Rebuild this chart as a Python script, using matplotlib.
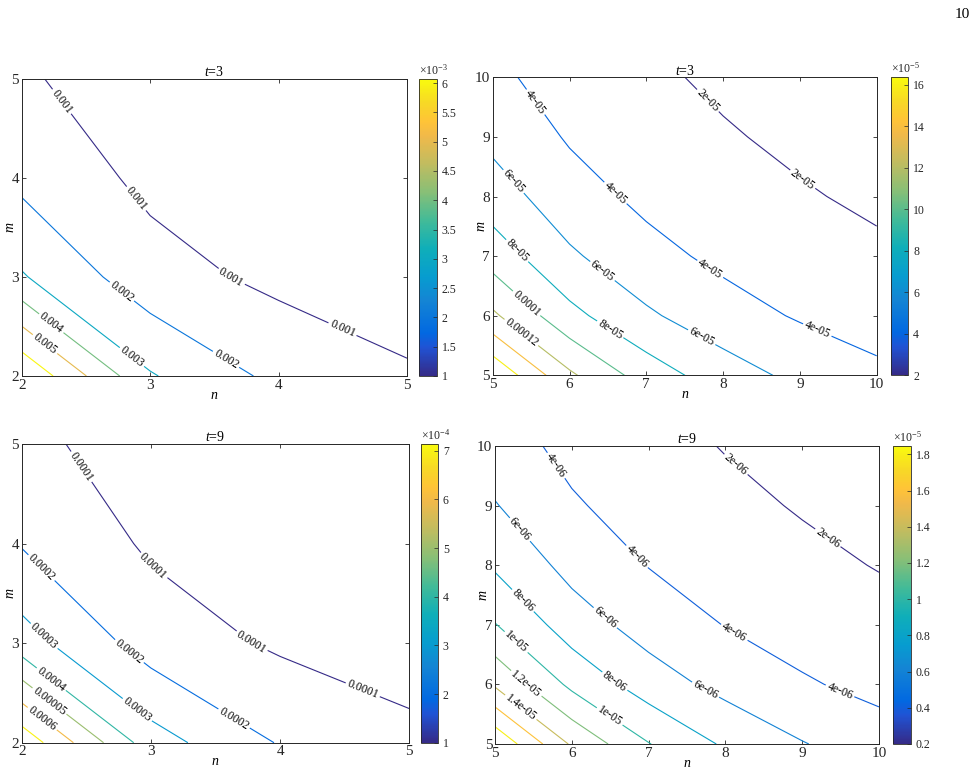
import numpy as np
import matplotlib
matplotlib.use('Agg')
from matplotlib import pyplot as plt
from matplotlib import colors, cm

plt.rcParams['font.family'] = 'Liberation Serif'
plt.rcParams['mathtext.fontset'] = 'custom'
plt.rcParams['mathtext.rm'] = 'Liberation Serif'
plt.rcParams['mathtext.it'] = 'Liberation Serif:italic'

# grid nodes
n_small = [2, 3, 4, 5]
m_small = [2, 3, 4, 5]
n_large = [5, 6, 7, 8, 9, 10]
m_large = [5, 6, 7, 8, 9, 10]

# t=3, values x1e-3 (rows m, cols n)
z_t3_small = [
    [6.944, 3.086, 1.736, 1.111],
    [3.086, 1.372, 0.772, 0.494],
    [1.736, 0.772, 0.434, 0.278],
    [1.111, 0.494, 0.278, 0.178],
]
# t=3, values x1e-5
z_t3_large = [
    [17.778, 12.346, 9.070, 6.944, 5.487, 4.444],
    [12.346, 8.573, 6.299, 4.823, 3.810, 3.086],
    [9.070, 6.299, 4.628, 3.543, 2.800, 2.268],
    [6.944, 4.823, 3.543, 2.713, 2.143, 1.736],
    [5.487, 3.810, 2.800, 2.143, 1.694, 1.372],
    [4.444, 3.086, 2.268, 1.736, 1.372, 1.111],
]
# t=9, values x1e-4
z_t9_small = [
    [7.716, 3.429, 1.929, 1.235],
    [3.429, 1.524, 0.857, 0.549],
    [1.929, 0.857, 0.482, 0.309],
    [1.235, 0.549, 0.309, 0.198],
]
# t=9, values x1e-5
z_t9_large = [
    [1.975, 1.372, 1.008, 0.772, 0.610, 0.494],
    [1.372, 0.953, 0.700, 0.536, 0.423, 0.343],
    [1.008, 0.700, 0.514, 0.394, 0.311, 0.252],
    [0.772, 0.536, 0.394, 0.301, 0.238, 0.193],
    [0.610, 0.423, 0.311, 0.238, 0.188, 0.152],
    [0.494, 0.343, 0.252, 0.193, 0.152, 0.124],
]

levels_t3_small = [0.001, 0.002, 0.003, 0.004, 0.005, 0.006]
levels_t3_large = [2e-05, 4e-05, 6e-05, 8e-05, 1e-04, 1.2e-04, 1.4e-04, 1.6e-04]
levels_t9_small = [1e-04, 2e-04, 3e-04, 4e-04, 5e-04, 6e-04, 7e-04]
levels_t9_large = [2e-06, 4e-06, 6e-06, 8e-06, 1e-05, 1.2e-05, 1.4e-05, 1.6e-05, 1.8e-05]

cbar_ticks_t3_small = [1, 1.5, 2, 2.5, 3, 3.5, 4, 4.5, 5, 5.5, 6]
cbar_ticks_t3_large = [2, 4, 6, 8, 10, 12, 14, 16]
cbar_ticks_t9_small = [1, 2, 3, 4, 5, 6, 7]
cbar_ticks_t9_large = [0.2, 0.4, 0.6, 0.8, 1, 1.2, 1.4, 1.6, 1.8]

# label text as printed on the chart
label_override = {5e-04: '0.00005'}

# parula-like colormap
parula = colors.LinearSegmentedColormap.from_list('parula', [
    (0.000, (0.2081, 0.1663, 0.5292)),
    (0.095, (0.1253, 0.3242, 0.8303)),
    (0.143, (0.0060, 0.4086, 0.8828)),
    (0.254, (0.0793, 0.5200, 0.8312)),
    (0.333, (0.0265, 0.6137, 0.8135)),
    (0.429, (0.0590, 0.6838, 0.7254)),
    (0.524, (0.2586, 0.7317, 0.5954)),
    (0.619, (0.5300, 0.7491, 0.4661)),
    (0.714, (0.7525, 0.7384, 0.3768)),
    (0.810, (0.9450, 0.7261, 0.2886)),
    (0.857, (0.9990, 0.7653, 0.2164)),
    (0.921, (0.9697, 0.8481, 0.1475)),
    (1.000, (0.9763, 0.9831, 0.0538)),
])

W, H = 978, 774
AXCOL = '#262626'


def px_box(left, right, top, bottom):
    return [left / W, 1 - bottom / H, (right - left) / W, (bottom - top) / H]


panels = [
    dict(n=n_small, m=m_small, z=z_t3_small, scale=1e-3, levels=levels_t3_small,
         ticks=cbar_ticks_t3_small, top=6.07, t='3', exp='-3',
         ax_px=(21.7, 407, 79, 376), cb_px=(419.3, 436.7, 79, 376),
         lab=[(2.31, 4.77), (2.895, 3.795), (3.633, 3.003), (4.50, 2.48),
              (2.79, 2.87), (3.58, 2.145), (2.863, 2.20), (2.22, 2.515), (2.18, 2.32)]),
    dict(n=n_large, m=m_large, z=z_t3_large, scale=1e-5, levels=levels_t3_large,
         ticks=cbar_ticks_t3_large, top=16.37, t='3', exp='-5',
         ax_px=(492.7, 876.7, 77.3, 375.3), cb_px=(891, 908.3, 77.3, 375.3),
         lab=[(5.564, 9.59), (7.81, 9.62), (9.045, 8.305), (5.27, 8.25), (6.606, 8.07),
              (5.326, 7.10), (6.406, 6.71), (7.83, 6.78), (9.23, 5.77), (5.45, 6.22),
              (5.38, 5.73), (6.52, 5.75), (7.73, 5.66)]),
    dict(n=n_small, m=m_small, z=z_t9_small, scale=1e-4, levels=levels_t9_small,
         ticks=cbar_ticks_t9_small, top=7.14, t='9', exp='-4',
         ax_px=(21.7, 409.3, 444, 742.7), cb_px=(420.7, 438, 444, 742.7),
         lab=[(2.46, 4.77), (3.03, 3.795), (3.78, 3.015), (4.63, 2.50), (2.14, 3.74),
              (2.84, 2.93), (3.64, 2.235), (2.18, 3.08), (2.90, 2.34), (2.23, 2.64),
              (2.21, 2.41), (2.155, 2.235)]),
    dict(n=n_large, m=m_large, z=z_t9_large, scale=1e-5, levels=levels_t9_large,
         ticks=cbar_ticks_t9_large, top=1.846, t='9', exp='-5',
         ax_px=(495, 879, 446, 744), cb_px=(893.3, 911, 446, 744),
         lab=[(5.77, 9.65), (8.11, 9.65), (9.34, 8.47), (5.326, 8.60), (6.845, 8.14),
              (5.35, 7.39), (6.43, 7.11), (8.11, 6.86), (9.47, 5.82), (5.24, 6.66),
              (5.41, 6.02), (6.54, 6.02), (7.72, 5.86), (5.326, 5.60), (6.476, 5.43)]),
]

fig = plt.figure(figsize=(W / 100, H / 100), dpi=100)

for p in panels:
    ax = fig.add_axes(px_box(*p['ax_px']))
    Z = np.array(p['z']) * p['scale']
    lv = p['levels']
    norm = colors.Normalize(vmin=lv[0], vmax=p['top'] * p['scale'])
    cs = ax.contour(p['n'], p['m'], Z, levels=lv, cmap=parula, norm=norm, linewidths=0.8)
    fmt = {v: label_override.get(v, '%g' % v) for v in cs.levels}
    ax.clabel(cs, manual=p['lab'], inline=True, inline_spacing=2,
              fontsize=8.5, fmt=fmt, colors='k')

    ax.set_xlim(p['n'][0], p['n'][-1])
    ax.set_ylim(p['m'][0], p['m'][-1])
    ax.set_xticks(p['n'])
    ax.set_yticks(p['m'])
    ax.tick_params(direction='in', top=True, right=True, length=3, width=0.6,
                   labelsize=11, colors=AXCOL, pad=2)
    for s in ax.spines.values():
        s.set_color(AXCOL)
        s.set_linewidth(0.7)
    ax.set_title(r'$t$=' + p['t'], fontsize=10, pad=2)
    ax.set_xlabel('n', fontstyle='italic', fontsize=10, va='center')
    ax.xaxis.set_label_coords(0.5, -0.064)
    ax.set_ylabel('m', fontstyle='italic', fontsize=10, va='center')
    ax.yaxis.set_label_coords(-0.030, 0.5)

    cax = fig.add_axes(px_box(*p['cb_px']))
    sm = cm.ScalarMappable(norm=colors.Normalize(vmin=lv[0] / p['scale'], vmax=p['top']),
                           cmap=parula)
    cb = fig.colorbar(sm, cax=cax, ticks=p['ticks'])
    cb.ax.set_yticklabels(['%g' % v for v in p['ticks']])
    cb.outline.set_linewidth(0.6)
    cb.outline.set_edgecolor(AXCOL)
    cax.tick_params(direction='in', length=3, width=0.5, labelsize=8.5,
                    colors=AXCOL, pad=3.5)
    cax.text(0.0, 1.005, r'$\times10^{' + p['exp'] + '}$', transform=cax.transAxes,
             ha='left', va='bottom', fontsize=8.5, color=AXCOL)

fig.text(962 / W, 1 - 15 / H, '10', ha='center', va='center', fontsize=11)

fig.savefig('out.png', dpi=100)
